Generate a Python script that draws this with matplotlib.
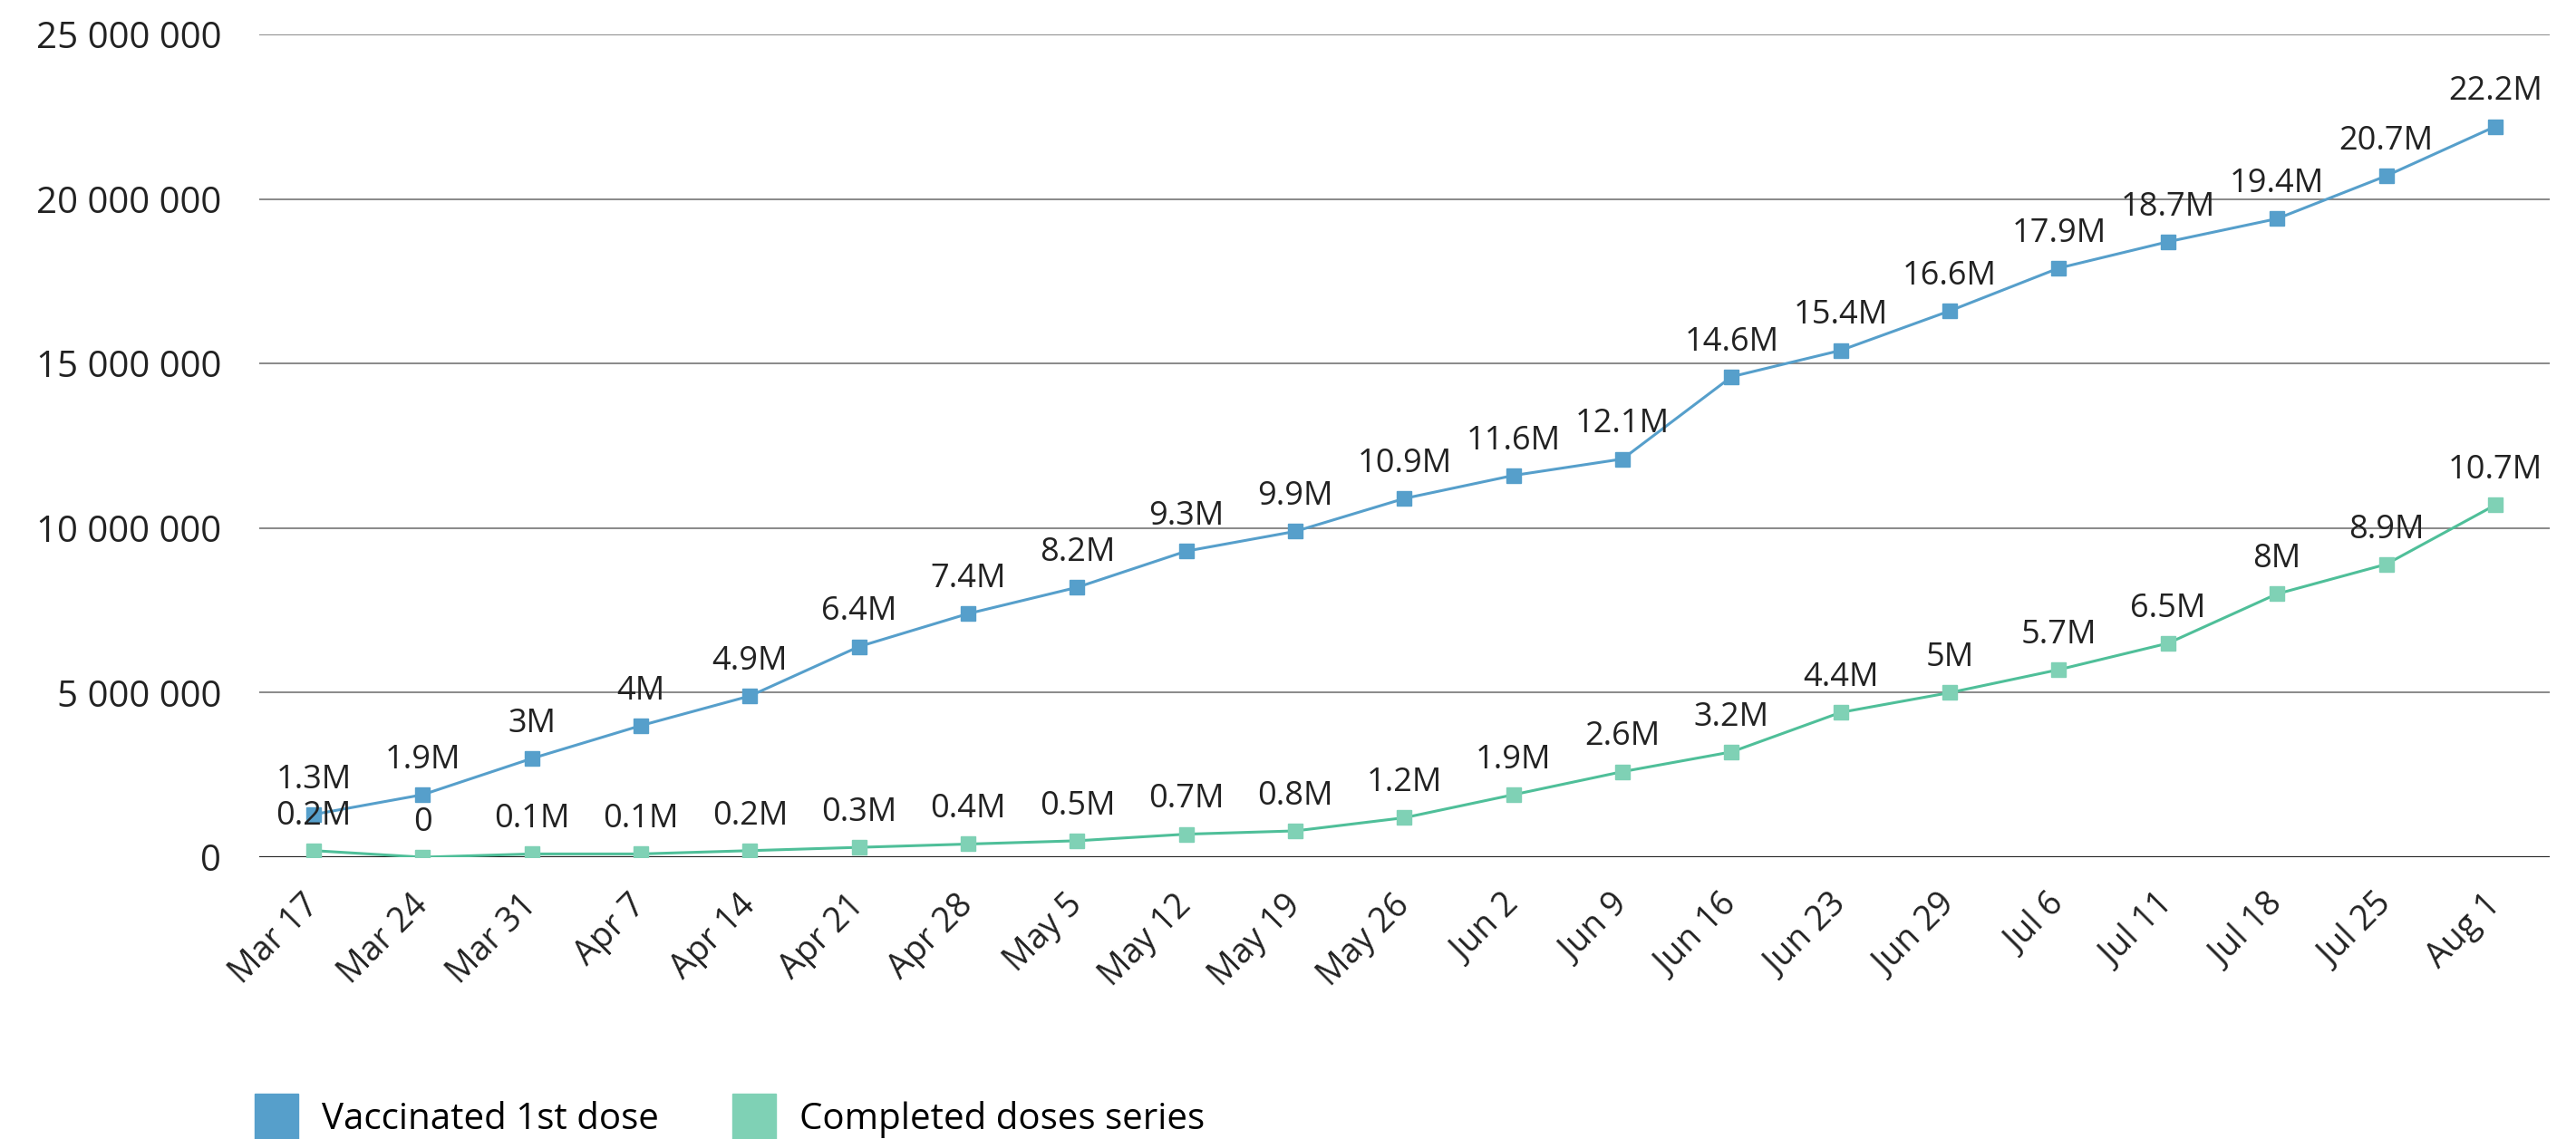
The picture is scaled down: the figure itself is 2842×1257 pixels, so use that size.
import matplotlib
matplotlib.use('Agg')
import matplotlib.pyplot as plt
import matplotlib.transforms as mtransforms
from matplotlib.patches import Patch
from matplotlib.ticker import FuncFormatter

# ── datos (millones) ──────────────────────────────────────────────
fechas = ['Mar 17', 'Mar 24', 'Mar 31', 'Apr 7', 'Apr 14', 'Apr 21', 'Apr 28',
          'May 5', 'May 12', 'May 19', 'May 26', 'Jun 2', 'Jun 9', 'Jun 16',
          'Jun 23', 'Jun 29', 'Jul 6', 'Jul 11', 'Jul 18', 'Jul 25', 'Aug 1']
primera_dosis = [1.3, 1.9, 3.0, 4.0, 4.9, 6.4, 7.4, 8.2, 9.3, 9.9, 10.9,
                 11.6, 12.1, 14.6, 15.4, 16.6, 17.9, 18.7, 19.4, 20.7, 22.2]
esquema_completo = [0.2, 0.0, 0.1, 0.1, 0.2, 0.3, 0.4, 0.5, 0.7, 0.8, 1.2,
                    1.9, 2.6, 3.2, 4.4, 5.0, 5.7, 6.5, 8.0, 8.9, 10.7]
y_ticks = [0, 5_000_000, 10_000_000, 15_000_000, 20_000_000, 25_000_000]

AZUL = '#569fcb'
VERDE_LINEA = '#4fbf99'
VERDE = '#7fd1b5'

plt.rcParams['font.family'] = ['Open Sans', 'DejaVu Sans']


def etiqueta(v):
    return '0' if v == 0 else f'{v:g}M'


fig = plt.figure(figsize=(28.42, 12.57), dpi=100)
ax = fig.add_axes([0.1006, 0.2474, 0.8892, 0.7224])

x = range(len(fechas))
serie_a = [v * 1e6 for v in primera_dosis]
serie_b = [v * 1e6 for v in esquema_completo]

ax.plot(x, serie_a, color=AZUL, lw=2.2, marker='s', ms=11,
        mfc=AZUL, mec=AZUL, zorder=4)
ax.plot(x, serie_b, color=VERDE_LINEA, lw=2.2, marker='s', ms=11,
        mfc=VERDE, mec=VERDE, zorder=4)

for serie, vals in [(serie_a, primera_dosis), (serie_b, esquema_completo)]:
    for i, (yv, v) in enumerate(zip(serie, vals)):
        ax.annotate(etiqueta(v), (i, yv), xytext=(0, 21),
                    textcoords='offset points', ha='center', va='baseline',
                    fontsize=26, color='#222222', zorder=5)

ax.set_xlim(-0.5, len(fechas) - 0.5)
ax.set_ylim(0, 25_000_000)
ax.set_yticks(y_ticks)
ax.yaxis.set_major_formatter(FuncFormatter(lambda v, p: f'{int(v):,}'.replace(',', ' ')))
ax.grid(axis='y', color='#808080', lw=1.3)
ax.axhline(0, color='#222222', lw=1.6, zorder=3)
ax.set_axisbelow(True)

ax.set_xticks(list(x))
ax.set_xticklabels(fechas, rotation=45, ha='right', va='center',
                   rotation_mode='anchor', fontsize=27, color='#222222')
desplaza = mtransforms.ScaledTranslation(0.12, -0.02, fig.dpi_scale_trans)
for lbl in ax.get_xticklabels():
    lbl.set_transform(lbl.get_transform() + desplaza)
ax.tick_params(axis='x', length=0, pad=34)
ax.tick_params(axis='y', length=0, pad=30, labelsize=29, labelcolor='#222222')
for s in ax.spines.values():
    s.set_visible(False)

handles = [Patch(color=AZUL, label='Vaccinated 1st dose'),
           Patch(color=VERDE, label='Completed doses series')]
fig.legend(handles=handles, loc='lower left', bbox_to_anchor=(0.086, -0.03),
           ncol=2, frameon=False, fontsize=29, handlelength=1.2,
           handleheight=1.6, handletextpad=0.65, columnspacing=2.0)

fig.savefig('out.png', dpi=100)
